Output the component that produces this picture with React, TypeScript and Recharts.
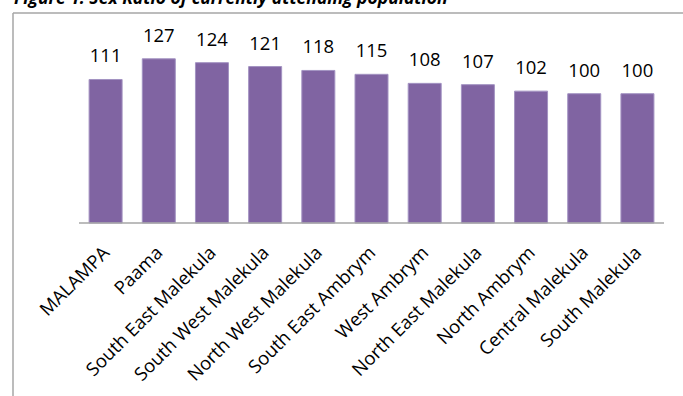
import React from "react";
import { BarChart, Bar, XAxis, YAxis, LabelList } from "recharts";

const areas = [
  "MALAMPA",
  "Paama",
  "South East Malekula",
  "South West Malekula",
  "North West Malekula",
  "South East Ambrym",
  "West Ambrym",
  "North East Malekula",
  "North Ambrym",
  "Central Malekula",
  "South Malekula",
];
const sexRatio = [111, 127, 124, 121, 118, 115, 108, 107, 102, 100, 100];

const data = areas.map((area, i) => ({ area, ratio: sexRatio[i] }));

const FONT = "'Open Sans', sans-serif";

const AreaTick = (props: any) => {
  const { x, y, payload } = props;
  return (
    <g transform={`translate(${x + 5},${y + 31})`}>
      <text
        x={0}
        y={0}
        textAnchor="end"
        transform="rotate(-45)"
        fontFamily={FONT}
        fontSize={18.5}
        fill="#000"
      >
        {payload.value}
      </text>
    </g>
  );
};

export default function App() {
  return (
    <div style={{ position: "absolute", left: 0, top: 0, width: 683, height: 396, background: "#fff" }}>
      <svg width={683} height={396} style={{ position: "absolute", left: 0, top: 0 }}>
        <text x={14} y={4} fontFamily={FONT} fontSize={17.5} fontWeight="bold" fontStyle="italic" fill="#000">
          Figure 1: Sex Ratio of currently attending population
        </text>
        <line x1={13} y1={13} x2={683} y2={13} stroke="#a6a6a6" strokeWidth={1.5} />
        <line x1={13} y1={13} x2={13} y2={396} stroke="#a6a6a6" strokeWidth={1.5} />
      </svg>
      <div style={{ position: "absolute", left: 0, top: 0 }}>
        <BarChart
          width={683}
          height={396}
          data={data}
          margin={{ top: 42, right: 19, bottom: 0, left: 79 }}
          barCategoryGap="19%"
        >
          <XAxis
            dataKey="area"
            interval={0}
            height={173}
            tickLine={false}
            tickSize={0}
            tickMargin={0}
            tick={<AreaTick />}
            axisLine={{ stroke: "#a6a6a6", strokeWidth: 1.5 }}
          />
          <YAxis hide domain={[0, 140]} />
          <Bar dataKey="ratio" fill="#8064A2" stroke="#a393c2" strokeWidth={1} isAnimationActive={false}>
            <LabelList
              dataKey="ratio"
              position="top"
              offset={17}
              style={{ fontFamily: FONT, fontSize: 18.5, fill: "#000" }}
            />
          </Bar>
        </BarChart>
      </div>
    </div>
  );
}
